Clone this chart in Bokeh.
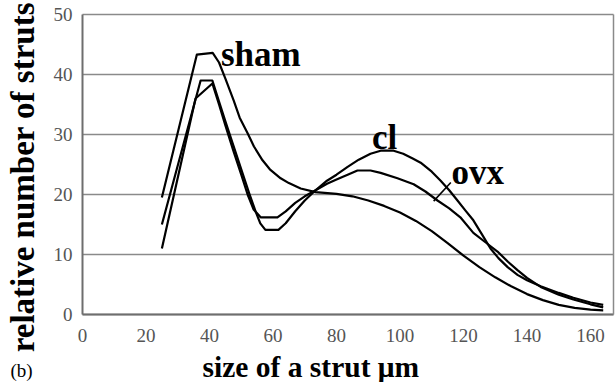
import math
from bokeh.plotting import figure
from bokeh.models import Label, FixedTicker, Range1d, LinearAxis
from bokeh.embed import file_html
from bokeh.resources import INLINE

# ---- data ----
sham_x = [25, 36, 41, 43, 45, 47.6, 49.5, 52, 54, 56.7, 59, 62.4, 65, 68.7, 73.4, 80, 85, 90, 95, 100,
          105, 110, 115, 120, 125, 130, 135, 140, 145, 150, 155, 160, 164]
sham_y = [19.5, 43.3, 43.6, 42, 39.3, 35.7, 32.8, 30.2, 28.0, 25.7, 24.2, 22.7, 21.9, 21.0, 20.4, 20.1, 19.7, 19.0, 18.1, 17.0,
          15.6, 13.9, 11.9, 9.8, 7.9, 6.2, 4.7, 3.4, 2.4, 1.6, 1.1, 0.8, 0.7]

cl_x = [25, 37.2, 40.9, 43, 45, 47.5, 50, 52.5, 54.5, 56, 57.6, 61.7, 64, 67, 70, 73.4, 77, 80, 83.5, 87,
        90.7, 93.9, 98, 101, 104, 106.5, 110, 112.8, 115.5, 118.1, 120.5, 123.1, 126, 128.5, 131, 133.9,
        137, 140, 144.3, 150, 154.6, 160, 164]
cl_y = [15, 39, 39, 35.5, 32.2, 28.2, 24.2, 20.2, 17.2, 15.2, 14.1, 14.1, 15.2, 17.2, 19.0, 20.7, 22.3, 23.3, 24.6, 25.8,
        26.8, 27.3, 27.3, 26.8, 26.0, 25.3, 23.8, 22.3, 20.7, 19.0, 17.4, 15.7, 13.2, 11.0, 9.4, 7.9,
        6.6, 5.7, 4.7, 3.6, 2.8, 2.0, 1.6]

ovx_x = [25, 35.6, 40.9, 43, 45, 47.5, 50, 52, 53.9, 56.1, 61.4, 64, 67, 70, 73.4, 77, 80, 83.5, 86.6, 90.7,
         93.9, 99.2, 104.3, 108, 111.8, 115.5, 119, 123.1, 127, 130.7, 134, 137, 140, 144.3, 150, 154.6, 160, 164]
ovx_y = [11, 36, 38.5, 35, 31.5, 27.3, 23.3, 20, 17.5, 16.2, 16.2, 17.2, 18.6, 19.7, 20.7, 21.8, 22.5, 23.3, 24.0, 24.0,
         23.6, 22.7, 21.7, 20.5, 19.0, 17.7, 16.2, 13.6, 12.0, 10.5, 8.8, 7.4, 6.1, 4.6, 3.3, 2.5, 1.7, 1.2]

series_names = ["sham", "cl", "ovx"]
x_ticks = [0, 20, 40, 60, 80, 100, 120, 140, 160]
y_ticks = [0, 10, 20, 30, 40, 50]
x_title = "size of a strut \u03bcm"
y_title = "relative number of struts"
panel_tag = "(b)"

X_MAX = 167.2
Y_MAX = 50
SERIF = "Liberation Serif"
GRID = "#8a8a8a"

# the frame covers the whole canvas; axes are pinned at 0 so titles can sit anywhere
p = figure(width=615, height=382, output_backend="svg", toolbar_location=None,
           x_range=Range1d(-25.83, 167.87), y_range=Range1d(-11.33, 52.33),
           min_border_left=0, min_border_right=0, min_border_top=0, min_border_bottom=0)
p.background_fill_color = "white"
p.border_fill_color = "white"
p.outline_line_color = None

for xs, ys in [(sham_x, sham_y), (cl_x, cl_y), (ovx_x, ovx_y)]:
    p.line(xs, ys, line_color="black", line_width=2.2, line_join="round")

# leader line for ovx label
p.line([110.6, 116.0], [18.9, 22.0], line_color="black", line_width=1.6)

# axes
p.xaxis.ticker = FixedTicker(ticks=x_ticks)
p.yaxis.ticker = FixedTicker(ticks=y_ticks)
p.xaxis.fixed_location = 0
p.yaxis.fixed_location = 0
p.xaxis.bounds = (0, X_MAX)
p.yaxis.bounds = (0, Y_MAX)
for ax in (p.xaxis[0], p.yaxis[0]):
    ax.major_tick_out = 0
    ax.major_tick_in = 0
    ax.minor_tick_out = 0
    ax.minor_tick_in = 0
    ax.axis_line_color = "#6e6e6e"
    ax.axis_line_width = 2
    ax.major_label_text_font = SERIF
    ax.major_label_text_font_size = "19px"
    ax.major_label_text_color = "#555555"
p.xaxis.major_label_standoff = 14
p.yaxis.major_label_standoff = 10

# right border of the plot area
r_axis = LinearAxis(fixed_location=X_MAX, bounds=(0, Y_MAX), ticker=FixedTicker(ticks=[]),
                    major_tick_in=0, major_tick_out=0, minor_tick_in=0, minor_tick_out=0,
                    axis_line_color=GRID, axis_line_width=1.5)
p.add_layout(r_axis, "right")

p.xgrid.grid_line_color = None
p.ygrid.grid_line_color = GRID
p.ygrid.grid_line_width = 1.5
p.ygrid.cross_bounds = (0, X_MAX)

# series labels (y = vertical middle of the text)
lab_pos = {"sham": (43.6, 43.3), "cl": (91.2, 29.5), "ovx": (116.2, 23.7)}
for name in series_names:
    lx, ly = lab_pos[name]
    p.add_layout(Label(x=lx, y=ly, text=name, text_font=SERIF, text_font_style="bold",
                       text_font_size="35px", text_color="black", text_baseline="middle"))

# axis titles and panel tag
p.add_layout(Label(x=37.8, y=-8.67, text=x_title, text_font=SERIF, text_font_style="bold",
                   text_font_size="29.5px", text_color="black", text_align="left",
                   text_baseline="middle"))
p.add_layout(Label(x=-18.9, y=22.9, text=y_title, text_font=SERIF, text_font_style="bold",
                   text_font_size="33px", text_color="black", text_align="center",
                   text_baseline="middle", angle=math.pi / 2))
p.add_layout(Label(x=-22.7, y=-9.3, text=panel_tag, text_font=SERIF,
                   text_font_size="19px", text_color="black", text_align="left",
                   text_baseline="middle"))

open("out.html", "w").write(file_html(p, INLINE))
